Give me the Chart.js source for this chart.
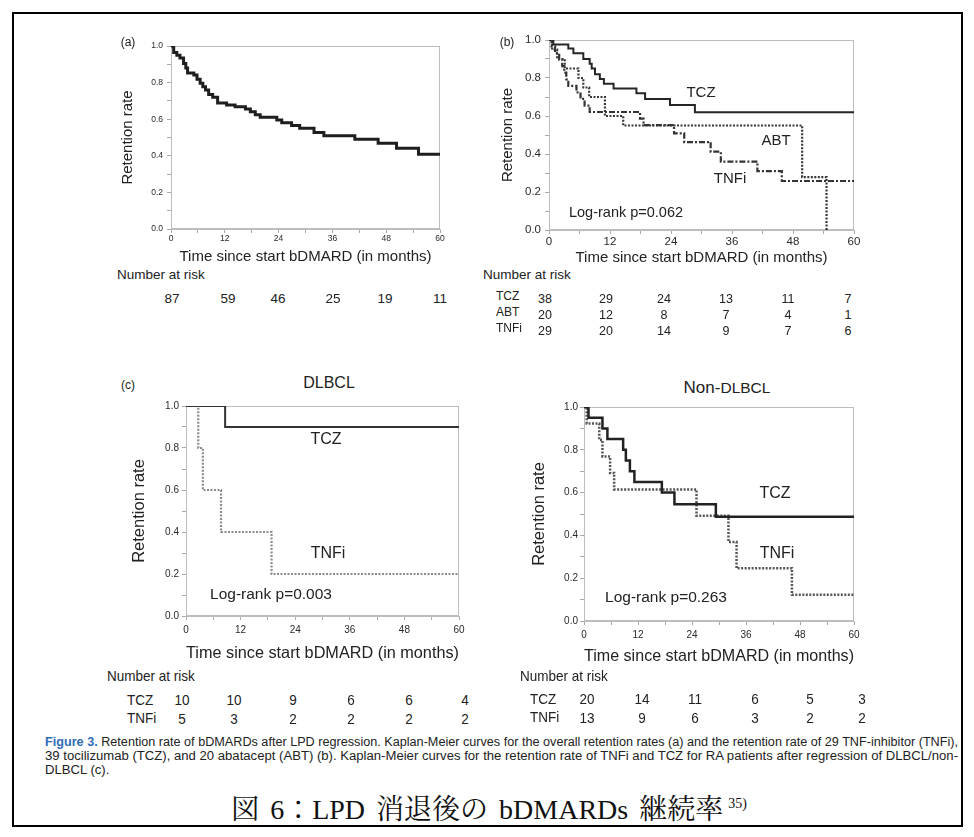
<!DOCTYPE html>
<html><head><meta charset="utf-8">
<script src="https://cdn.jsdelivr.net/npm/chart.js@4.4.1/dist/chart.umd.min.js"></script>
<style>
html,body{margin:0;padding:0;background:#fff;}
body{width:974px;height:837px;position:relative;overflow:hidden;font-family:"Liberation Sans",Arial,sans-serif;color:#222;}
canvas{position:absolute;}
.t{position:absolute;transform:translate(-50%,-50%);white-space:nowrap;line-height:1;}
.l{position:absolute;transform:translateY(-50%);white-space:nowrap;line-height:1;}
.tn{position:absolute;transform:translate(-50%,-50%) scaleX(0.9);white-space:nowrap;line-height:1;}
.ln{position:absolute;transform:translateY(-50%) scaleX(0.9);transform-origin:left center;white-space:nowrap;line-height:1;}
#frame{position:absolute;left:12px;top:12px;width:947px;height:811px;border:2px solid #000;}
.cl{white-space:nowrap;height:14px;line-height:14px;}
.cl span{display:inline-block;transform-origin:left center;}
</style></head><body>
<div id="frame"></div>
<canvas id="ca"></canvas>
<canvas id="cb"></canvas>
<canvas id="cc1"></canvas>
<canvas id="cc2"></canvas>
<div id="texts"></div>
<div id="cap" style="position:absolute;left:45px;top:735px;width:913px;font-family:'Liberation Sans',sans-serif;font-size:12.5px;color:#222;">
  <div class="cl j"><span><b style="color:#2e6cb5">Figure 3.</b> Retention rate of bDMARDs after LPD regression. Kaplan-Meier curves for the overall retention rates (a) and the retention rate of 29 TNF-inhibitor (TNFi),</span></div>
  <div class="cl j"><span>39 tocilizumab (TCZ), and 20 abatacept (ABT) (b). Kaplan-Meier curves for the retention rate of TNFi and TCZ for RA patients after regression of DLBCL/non-</span></div>
  <div class="cl" id="cl3"><span>DLBCL (c).</span></div>
</div>
<div id="jcap" class="t" style="left:489px;top:810px;font-family:'Liberation Serif','Noto Serif CJK JP','Noto Sans CJK JP',serif;font-size:28px;color:#111;word-spacing:4px;">図 6：LPD 消退後の bDMARDs 継続率<span style="font-size:14px;position:relative;top:-11px;margin-left:5px;">35)</span></div>
<script>
// ---------------- data ----------------
const monthTicks = [0, 12, 24, 36, 48, 60];

// (a) overall
const aTime = [0, 0.6, 1.3, 2.0, 2.8, 3.3, 3.7, 5.1, 5.8, 6.5, 7.1, 7.7, 8.4, 9.3, 10.4, 12.4, 14.3, 16.6, 17.7, 18.8, 19.9, 23.6, 24.7, 26.9, 28.7, 31.9, 34.1, 41.0, 46.2, 50.3, 55.2, 60];
const aRate = [1, 0.965, 0.95, 0.935, 0.905, 0.88, 0.852, 0.842, 0.818, 0.796, 0.778, 0.76, 0.735, 0.72, 0.688, 0.678, 0.668, 0.656, 0.641, 0.625, 0.61, 0.596, 0.581, 0.565, 0.55, 0.528, 0.51, 0.49, 0.468, 0.441, 0.408, 0.408];
const aRisk = [87, 59, 46, 25, 19, 11];

// (b) by drug
const bTczTime = [0, 0.85, 3.8, 4.8, 6.75, 8.0, 8.4, 9.05, 10.0, 10.8, 12.7, 17.2, 18.9, 23.8, 28.7, 60];
const bTczRate = [1, 0.976, 0.955, 0.93, 0.90, 0.875, 0.85, 0.82, 0.795, 0.77, 0.745, 0.72, 0.69, 0.658, 0.62, 0.62];
const bAbtTime = [0, 0.6, 1.6, 3.1, 5.8, 6.75, 7.9, 11.0, 14.6, 49.8, 54.6];
const bAbtRate = [1, 0.95, 0.90, 0.85, 0.80, 0.75, 0.70, 0.60, 0.55, 0.278, 0];
const bTnfTime = [0, 0.5, 1.2, 2.0, 2.6, 3.0, 3.4, 3.8, 5.4, 6.2, 7.0, 8.0, 17.9, 18.6, 24.6, 26.6, 31.8, 33.8, 41.0, 45.8, 60];
const bTnfRate = [1, 0.966, 0.931, 0.897, 0.862, 0.828, 0.793, 0.759, 0.724, 0.690, 0.655, 0.621, 0.586, 0.552, 0.509, 0.463, 0.412, 0.36, 0.31, 0.258, 0.258];
const bRiskTcz = [38, 29, 24, 13, 11, 7];
const bRiskAbt = [20, 12, 8, 7, 4, 1];
const bRiskTnf = [29, 20, 14, 9, 7, 6];

// (c) DLBCL
const dTczTime = [0, 8.6, 60];
const dTczRate = [1, 0.9, 0.9];
const dTnfTime = [0, 2.7, 3.7, 7.7, 18.8, 60];
const dTnfRate = [1, 0.8, 0.6, 0.4, 0.2, 0.2];
const dRiskTcz = [10, 10, 9, 6, 6, 4];
const dRiskTnf = [5, 3, 2, 2, 2, 2];

// (c) Non-DLBCL
const nTczTime = [0, 1.0, 4.1, 5.2, 8.7, 9.3, 10.2, 11.2, 17.3, 20.1, 29.3, 60];
const nTczRate = [1, 0.95, 0.90, 0.85, 0.80, 0.75, 0.70, 0.65, 0.60, 0.545, 0.487, 0.487];
const nTnfTime = [0, 0.6, 3.4, 4.1, 5.8, 6.7, 25.0, 32.1, 33.9, 46.2, 60];
const nTnfRate = [1, 0.923, 0.846, 0.769, 0.692, 0.615, 0.492, 0.369, 0.246, 0.123, 0.123];
const nRiskTcz = [20, 14, 11, 6, 5, 3];
const nRiskTnf = [13, 9, 6, 3, 2, 2];

// ---------------- helpers ----------------
const F = '"Liberation Sans", Arial, sans-serif';
function km(times, rates) { return times.map((t, i) => ({x: t, y: rates[i]})); }

const framePlugin = {
  id: 'frameBox',
  beforeDatasetsDraw(chart) {
    const {ctx, chartArea: a} = chart;
    ctx.save();
    ctx.strokeStyle = '#bdbdbd';
    ctx.lineWidth = 1;
    ctx.strokeRect(a.left + 0.5, a.top + 0.5, a.right - a.left - 1, a.bottom - a.top - 1);
    ctx.restore();
  }
};

function makeChart(id, p, datasets) {
  const c = document.getElementById(id);
  c.width = p.W; c.height = p.H;
  c.style.left = p.L + 'px'; c.style.top = p.T + 'px';
  c.style.width = p.W + 'px'; c.style.height = p.H + 'px';
  return new Chart(c, {
    type: 'line',
    data: {datasets: datasets},
    plugins: [framePlugin],
    options: {
      responsive: false, animation: false, devicePixelRatio: 1,
      layout: {padding: {top: p.padT, right: p.padR, left: 0, bottom: 0}},
      plugins: {legend: {display: false}, tooltip: {enabled: false}},
      elements: {point: {radius: 0}, line: {tension: 0}},
      scales: {
        x: {
          type: 'linear', min: 0, max: 60,
          afterFit(s) { s.height = p.xH; },
          ticks: {stepSize: 6, autoSkip: false, maxRotation: 0, padding: p.xPad, color: '#2a2a2a',
                  font: {size: p.tick, family: F},
                  callback: v => monthTicks.includes(v) ? String(v) : ''},
          grid: {drawOnChartArea: false, drawTicks: true, tickLength: 4, color: '#aaa'},
          border: {display: true, color: '#bdbdbd'},
          title: {display: true, text: 'Time since start bDMARD (in months)', color: '#222',
                  font: {size: p.xt, family: F}, padding: {top: 0, bottom: 0}}
        },
        y: {
          type: 'linear', min: 0, max: 1,
          afterFit(s) { s.width = p.yW; },
          ticks: {stepSize: 0.1, autoSkip: false, padding: p.yPad, color: '#2a2a2a',
                  font: {size: p.tick, family: F},
                  callback: v => (Math.round(v * 10) % 2 === 0 ? v.toFixed(1) : '')},
          grid: {drawOnChartArea: false, drawTicks: true, tickLength: 4, color: '#aaa'},
          border: {display: true, color: '#bdbdbd'},
          title: {display: true, text: 'Retention rate', color: '#222',
                  font: {size: p.yt, family: F}, padding: {top: 0, bottom: 0}}
        }
      }
    }
  });
}

function line(data, color, width, dash) {
  return {data: data, borderColor: color, borderWidth: width, borderDash: dash || [],
          stepped: true, fill: false, pointRadius: 0, borderCapStyle: 'butt', borderJoinStyle: 'miter'};
}

// ---------------- charts ----------------
makeChart('ca', {L: 119, T: 30, W: 331, H: 236, yW: 52, xH: 37, padT: 16, padR: 10, tick: 8.5, yPad: 4, xPad: 1, xt: 15, yt: 15},
  [line(km(aTime, aRate), '#1e1e1e', 3)]);

makeChart('cb', {L: 499, T: 28, W: 365, H: 239, yW: 50, xH: 37, padT: 12, padR: 10, tick: 11.5, yPad: 4, xPad: 1, xt: 15, yt: 15},
  [line(km(bTczTime, bTczRate), '#262626', 2),
   line(km(bAbtTime, bAbtRate), '#383838', 2.2, [2, 1.5]),
   line(km(bTnfTime, bTnfRate), '#333333', 2.2, [6, 2, 2, 2])]);

makeChart('cc1', {L: 130, T: 396, W: 339, H: 267, yW: 56, xH: 47, padT: 10, padR: 10, tick: 10, yPad: 3, xPad: 4, xt: 16.5, yt: 16.5},
  [line(km(dTczTime, dTczRate), '#333333', 2),
   line(km(dTnfTime, dTnfRate), '#8c8c8c', 2.2, [2, 1.5])]);

makeChart('cc2', {L: 530, T: 397, W: 334, H: 270, yW: 54, xH: 46, padT: 10, padR: 10, tick: 10, yPad: 2, xPad: 4, xt: 17, yt: 16.5},
  [line(km(nTczTime, nTczRate), '#222222', 2.5),
   line(km(nTnfTime, nTnfRate), '#555555', 2.5, [2, 1.5])]);

// ---------------- texts ----------------
const box = document.getElementById('texts');
function txt(s, x, y, size, cls) {
  const d = document.createElement('div');
  d.className = cls || 't';
  d.style.left = x + 'px'; d.style.top = y + 'px';
  d.style.fontSize = size + 'px';
  d.innerHTML = s;
  box.appendChild(d);
}
// panel labels & annotations
txt('(a)', 128, 42, 12);
txt('(b)', 507, 42, 12);
txt('TCZ', 701, 91, 15);
txt('ABT', 776, 139, 15);
txt('TNFi', 730, 177, 15);
txt('Log-rank p=0.062', 626, 212, 14.5);
txt('(c)', 128, 385, 12);
txt('DLBCL', 329, 383, 16);
txt('TCZ', 326, 439, 16);
txt('TNFi', 328, 553, 16);
txt('Log-rank p=0.003', 271, 594, 15.5);
txt('Non-<span style="font-size:15.5px">DLBCL</span>', 727, 387, 17);
txt('TCZ', 775, 493, 16);
txt('TNFi', 777, 553, 16);
txt('Log-rank p=0.263', 666, 597, 15.5);

// number at risk tables
const aCols = [172, 228, 278, 333, 385, 440];
const bCols = [545, 606, 664, 726, 788, 848];
const dCols = [182, 234, 293, 351, 409, 465];
const nCols = [587, 642, 695, 755, 810, 862];
function riskRow(vals, cols, y, size, cls) {
  vals.forEach((v, i) => txt(String(v), cols[i], y, size, cls || 't'));
}
txt('Number at risk', 117, 275, 13.5, 'l');
riskRow(aRisk, aCols, 299, 13.5);

txt('Number at risk', 483, 275, 13.5, 'l');
txt('TCZ', 496, 296, 12, 'l'); riskRow(bRiskTcz, bCols, 299, 12.5);
txt('ABT', 496, 312, 12, 'l'); riskRow(bRiskAbt, bCols, 315, 12.5);
txt('TNFi', 496, 328, 12, 'l'); riskRow(bRiskTnf, bCols, 331, 12.5);

txt('Number at risk', 107, 675, 15, 'ln');
txt('TCZ', 127, 699, 15, 'ln'); riskRow(dRiskTcz, dCols, 699, 15, 'tn');
txt('TNFi', 127, 717, 15, 'ln'); riskRow(dRiskTnf, dCols, 718, 15, 'tn');

txt('Number at risk', 520, 675, 15, 'ln');
txt('TCZ', 530, 698, 15, 'ln'); riskRow(nRiskTcz, nCols, 698, 15, 'tn');
txt('TNFi', 530, 716, 15, 'ln'); riskRow(nRiskTnf, nCols, 717, 15, 'tn');

// condense caption lines to the printed width
let lastScale = 0.9;
document.querySelectorAll('.cl.j').forEach(el => {
  const span = el.firstElementChild;
  const w = span.getBoundingClientRect().width;
  const target = el.clientWidth;
  lastScale = target / w;
  span.style.transform = 'scaleX(' + lastScale + ')';
});
document.querySelector('#cl3 span').style.transform = 'scaleX(' + lastScale + ')';
</script>
</body></html>
